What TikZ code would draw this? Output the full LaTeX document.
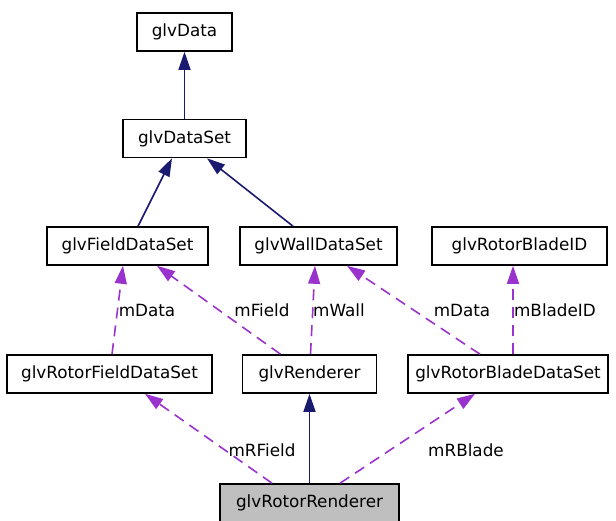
\documentclass[tikz,border=0pt]{standalone}
\usepackage{fontspec}
\setmainfont{DejaVu Sans}
\usetikzlibrary{arrows.meta}
\definecolor{navy}{HTML}{191970}
\definecolor{orchid}{HTML}{9A32CD}
\definecolor{boxgray}{HTML}{BFBFBF}
\begin{document}
\begin{tikzpicture}[x=1pt,y=-1pt,
  every node/.style={font=\fontsize{16.8}{19}\selectfont},
  cls/.style={draw,line width=1.6pt,inner sep=0pt,minimum height=38pt},
  inherit/.style={navy,line width=1.6pt,-{Triangle[length=18pt,width=12pt]}},
  uses/.style={orchid,line width=1.6pt,dash pattern=on 11pt off 7pt,-{Triangle[length=18pt,width=12pt]}}]
 \useasboundingbox (0,0) rectangle (616,520);
 % classes
 \node [cls,minimum width=95pt] (data) at (184.5,32) {glvData};
 \node [cls,minimum width=123pt] (dataset) at (184.5,138.5) {glvDataSet};
 \node [cls,minimum width=161pt] (field) at (127.5,246) {glvFieldDataSet};
 \node [cls,minimum width=157pt] (wall) at (318.5,246) {glvWallDataSet};
 \node [cls,minimum width=175pt] (bladeid) at (519.5,246) {glvRotorBladeID};
 \node [cls,minimum width=205pt] (rfield) at (109.5,374) {glvRotorFieldDataSet};
 \node [cls,minimum width=134pt] (renderer) at (309.5,374) {glvRenderer};
 \node [cls,minimum width=200pt] (rblade) at (508,374) {glvRotorBladeDataSet};
 \node [cls,minimum width=179pt,fill=boxgray] (rrend) at (309.5,503) {glvRotorRenderer};
 % inheritance
 \draw [inherit] (dataset.north) -- (data.south);
 \draw [inherit] ([xshift=10.5pt]field.north) -- ([xshift=-12.5pt]dataset.south);
 \draw [inherit] ([xshift=-25.5pt]wall.north) -- ([xshift=22.5pt]dataset.south);
 \draw [inherit] (rrend.north) -- (renderer.south);
 % members
 \draw [uses] ([xshift=2.5pt]rfield.north) -- ([xshift=-4.5pt]field.south);
 \draw [uses] ([xshift=-29pt]renderer.north) -- ([xshift=29.5pt]field.south);
 \draw [uses] ([xshift=1pt]renderer.north) -- ([xshift=-3.5pt]wall.south);
 \draw [uses] ([xshift=-28pt]rblade.north) -- ([xshift=28.5pt]wall.south);
 \draw [uses] ([xshift=5pt]rblade.north) -- ([xshift=-6.5pt]bladeid.south);
 \draw [uses] ([xshift=-37.5pt]rrend.north) -- ([xshift=35.5pt]rfield.south);
 \draw [uses] ([xshift=30.5pt]rrend.north) -- ([xshift=-33pt]rblade.south);
 \node (lfdata) at (147,310) {mData};
 \node (lfield) at (262,310) {mField};
 \node (lwall) at (339,310) {mWall};
 \node (lbdata) at (462,310) {mData};
 \node (lbladeid) at (555,310) {mBladeID};
 \node (lrfield) at (262,450) {mRField};
 \node (lrblade) at (466,450) {mRBlade};
\end{tikzpicture}
\end{document}
